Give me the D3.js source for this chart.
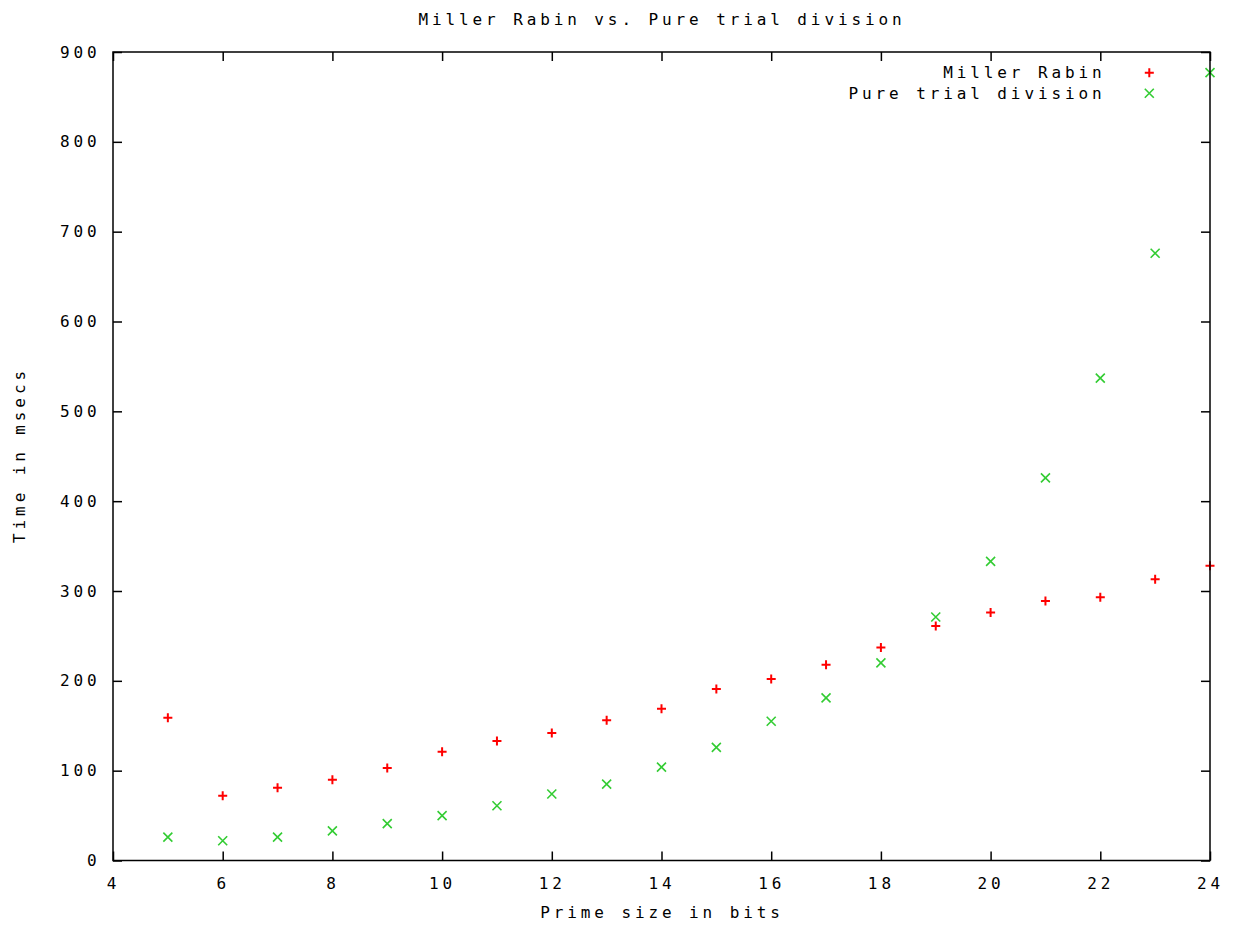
<!DOCTYPE html>
<html>
<head>
<meta charset="utf-8">
<script src="https://cdn.jsdelivr.net/npm/d3@7"></script>
<style>
  body { margin: 0; background: #fff; }
  svg text { font-family: "DejaVu Sans Mono", monospace; font-size: 16px; letter-spacing: 3.9px; fill: #000; }
</style>
</head>
<body>
<svg class="chart"></svg>
<script>
var width = 1242,
    height = 927;
var margin = {top: 52, right: 32, bottom: 66.5, left: 113};

// prime size in bits
var bits = [5, 6, 7, 8, 9, 10, 11, 12, 13, 14, 15, 16, 17, 18, 19, 20, 21, 22, 23, 24];
// time in msecs
var millerRabin = [159, 72, 81, 90, 103, 121, 133, 142, 156, 169, 191, 202, 218, 237, 261, 276, 289, 293, 313, 328];
var trialDivision = [26, 22, 26, 33, 41, 50, 61, 74, 85, 104, 126, 155, 181, 220, 271, 333, 426, 537, 676, 877];

var xTicks = [4, 6, 8, 10, 12, 14, 16, 18, 20, 22, 24];
var yTicks = [0, 100, 200, 300, 400, 500, 600, 700, 800, 900];

var series = [
    {name: "Miller Rabin", values: millerRabin, color: "#ff0000", shape: "plus"},
    {name: "Pure trial division", values: trialDivision, color: "#33cc33", shape: "cross"}
];

var w = width - margin.left - margin.right,
    h = height - margin.top - margin.bottom;

var svg = d3.select(".chart")
    .attr("width", width)
    .attr("height", height)
  .append("g")
    .attr("transform", "translate(" + margin.left + "," + margin.top + ")");

var x = d3.scaleLinear().domain([4, 24]).range([0, w]);
var y = d3.scaleLinear().domain([0, 900]).range([h, 0]);

function styleAxis(g) {
    g.select(".domain").remove();
    g.selectAll(".tick line").attr("stroke", "#000").attr("stroke-width", 1.5);
    g.selectAll("text").attr("font-family", null).attr("font-size", null);
}

svg.append("g")
    .attr("transform", "translate(0," + h + ")")
    .call(d3.axisBottom(x).tickValues(xTicks).tickSize(-9).tickPadding(17))
    .call(styleAxis);
svg.append("g")
    .call(d3.axisTop(x).tickValues(xTicks).tickSize(-9).tickFormat(""))
    .call(styleAxis);
svg.append("g")
    .call(d3.axisLeft(y).tickValues(yTicks).tickSize(-9).tickPadding(12.5))
    .call(styleAxis);
svg.append("g")
    .attr("transform", "translate(" + w + ",0)")
    .call(d3.axisRight(y).tickValues(yTicks).tickSize(-9).tickFormat(""))
    .call(styleAxis);

function marker(sel, shape, color) {
    var s = 4.5;
    if (shape == "plus") {
        sel.append("path")
            .attr("d", "M" + (-s) + ",0H" + s + "M0," + (-s) + "V" + s)
            .attr("stroke", color)
            .attr("stroke-width", 2)
            .attr("fill", "none");
    } else {
        sel.append("path")
            .attr("d", "M" + (-s) + "," + (-s) + "L" + s + "," + s + "M" + (-s) + "," + s + "L" + s + "," + (-s))
            .attr("stroke", color)
            .attr("stroke-width", 1.6)
            .attr("fill", "none");
    }
}

series.forEach(function(sr) {
    svg.append("g").selectAll(".pt")
        .data(sr.values)
      .enter().append("g")
        .attr("class", "pt")
        .attr("transform", function(d, i) { return "translate(" + x(bits[i]) + "," + y(d) + ")"; })
        .each(function() { marker(d3.select(this), sr.shape, sr.color); });
});

// frame on top
svg.append("rect")
    .attr("width", w)
    .attr("height", h)
    .attr("fill", "none")
    .attr("stroke", "#000")
    .attr("stroke-width", 1.5);

// legend
var legend = svg.selectAll(".legend")
    .data(series)
  .enter().append("g")
    .attr("class", "legend")
    .attr("transform", function(d, i) { return "translate(0," + (20.7 + i * 20.6) + ")"; });
legend.append("text")
    .attr("x", 1105.6 - margin.left)
    .attr("dy", "0.36em")
    .attr("text-anchor", "end")
    .text(function(d) { return d.name; });
legend.append("g")
    .attr("transform", "translate(" + (1149.3 - margin.left) + ",0)")
    .each(function(d) { marker(d3.select(this), d.shape, d.color); });

// titles
var root = d3.select(".chart");
root.append("text")
    .attr("x", 662)
    .attr("y", 25)
    .attr("text-anchor", "middle")
    .text("Miller Rabin vs. Pure trial division");
root.append("text")
    .attr("x", 662)
    .attr("y", 918)
    .attr("text-anchor", "middle")
    .text("Prime size in bits");
root.append("text")
    .attr("transform", "translate(25,455) rotate(-90)")
    .attr("text-anchor", "middle")
    .text("Time in msecs");
</script>
</body>
</html>
